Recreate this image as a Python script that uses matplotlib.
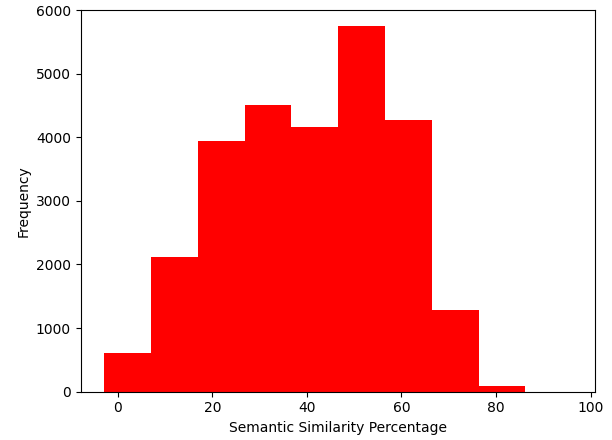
import matplotlib
matplotlib.use("Agg")
import matplotlib.pyplot as plt
import numpy as np

bin_start = -2.86
bin_end = 96.1
n_bins = 10
counts = [610, 2115, 3935, 4505, 4165, 5745, 4270, 1290, 95, 0]

edges = np.linspace(bin_start, bin_end, n_bins + 1)
centers = (edges[:-1] + edges[1:]) / 2

fig = plt.figure(figsize=(6.12, 4.4), dpi=100)
ax = fig.add_axes([0.132, 0.110, 0.841, 0.867])
ax.hist(centers, bins=edges, weights=counts, color="red")
ax.set_ylim(0, 6000)
ax.set_xlabel("Semantic Similarity Percentage")
ax.set_ylabel("Frequency")
fig.savefig("out.png", dpi=100)
